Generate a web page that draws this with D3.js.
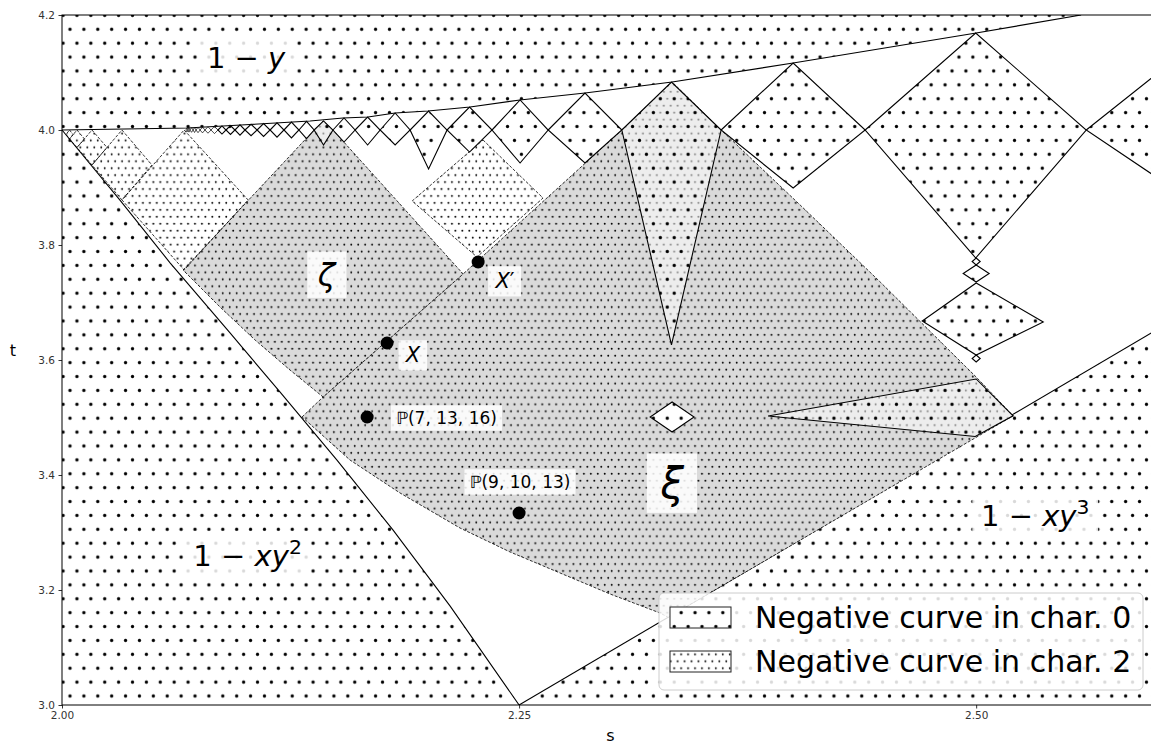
<!DOCTYPE html>
<html>
<head>
<meta charset="utf-8">
<script src="https://cdnjs.cloudflare.com/ajax/libs/d3/7.8.5/d3.min.js"></script>
<style>
  body { margin: 0; background: #fff; }
  svg { display: block; font-family: "DejaVu Sans", sans-serif; }
</style>
</head>
<body>
<svg id="chart" width="1151" height="744"></svg>
<script>
// Axis ticks
var xTicks = [2.0, 2.25, 2.5];
var yTicks = [3.0, 3.2, 3.4, 3.6, 3.8, 4.0, 4.2];

// Boundary of the "1 - y" region (upper envelope of the diamonds)
var topCurve = [[2.0, 4.0], [2.0684, 4.0035], [2.1028, 4.0096], [2.1357, 4.0157], [2.1537, 4.0209],
    [2.1674, 4.0226], [2.1822, 4.0296], [2.2002, 4.0330], [2.2232, 4.0400], [2.2505, 4.0522],
    [2.2861, 4.0643], [2.3337, 4.0835], [2.3999, 4.1165], [2.5, 4.1687], [2.5574, 4.2]];

// Boundary of the "1 - xy^2" region
var curveXY2 = [[2.0, 4.0], [2.0317, 3.878], [2.0591, 3.769], [2.0919, 3.647], [2.1193, 3.544],
    [2.1504, 3.426], [2.1811, 3.304], [2.2123, 3.172], [2.25, 3.0]];

// Boundary of the "1 - xy^3" region
var curveXY3 = [[2.25, 3.0], [2.6, 3.655]];

// Region xi (grey)
var xiOutline = [[2.1313, 3.5009], [2.1428, 3.5357], [2.2194, 3.7496], [2.3062, 4.0], [2.3337, 4.0835],
    [2.3605, 4.0], [2.4037, 3.8696], [2.4475, 3.7357], [2.5, 3.5704], [2.5202, 3.503],
    [2.3315, 3.1525], [2.3271, 3.16], [2.2998, 3.193], [2.2724, 3.2296], [2.2451, 3.2661],
    [2.2177, 3.3078], [2.1849, 3.3687], [2.1575, 3.4261]];

// Region zeta (grey)
var zetaOutline = [[2.0662, 3.7565], [2.1379, 4.0], [2.1428, 4.0157], [2.1482, 4.0], [2.2194, 3.7496],
    [2.1428, 3.5357], [2.1247, 3.5826], [2.1056, 3.6348], [2.0864, 3.6922]];

// Char. 2 diamonds (top, right, bottom, left)
var char2Diamonds = [
    [[2.0668, 4.0], [2.1018, 3.8783], [2.0668, 3.7565], [2.0328, 3.8783]],
    [[2.0328, 4.0], [2.0492, 3.9391], [2.0328, 3.8783], [2.0164, 3.9391]],
    [[2.0164, 4.0], [2.0246, 3.9696], [2.0164, 3.9391], [2.0082, 3.9696]],
    [[2.0082, 4.0], [2.0123, 3.9843], [2.0082, 3.9696], [2.0041, 3.9843]],
    [[2.0041, 4.0], [2.0060, 3.9922], [2.0041, 3.9843], [2.0022, 3.9922]],
    [[2.2303, 3.9826], [2.2631, 3.8817], [2.2270, 3.7791], [2.1915, 3.8765]]
];

// Char. 0 diamonds along t = 4: side corners, top and bottom corners
var zigBase = 4.0;
var zigEdges = [2.0678, 2.0689, 2.0700, 2.0717, 2.0733, 2.0755, 2.0782, 2.0815, 2.0853, 2.0897,
    2.0946, 2.1001, 2.1067, 2.1138, 2.1214, 2.1296, 2.1379, 2.1482, 2.1603, 2.1740, 2.1904,
    2.2106, 2.2352, 2.2659, 2.3062, 2.3605, 2.4393, 2.5602, 2.6400];
var zigTop = [4.0035, 4.0037, 4.0040, 4.0043, 4.0047, 4.0050, 4.0056, 4.0063, 4.0070, 4.0078,
    4.0089, 4.0099, 4.0111, 4.0125, 4.0139, 4.0151, 4.0157, 4.0209, 4.0226, 4.0296, 4.0330,
    4.0400, 4.0522, 4.0643, 4.0835, 4.1165, 4.1687, 4.1009];
var zigBottom = [3.9965, 3.9963, 3.9960, 3.9957, 3.9953, 3.9950, 3.9944, 3.9937, 3.9930, 3.9922,
    3.9911, 3.9901, 3.9889, 3.9875, 3.9861, 3.9849, 3.9739, 3.9791, 3.9739, 3.9739, 3.9322,
    3.9617, 3.9426, 3.9426, 3.6261, 3.8991, 3.7774, 3.9148];

// Char. 0 diamonds hanging under s = 2.5
var chainDiamonds = [
    [[2.5, 3.7774], [2.5022, 3.7713], [2.5, 3.7652], [2.4978, 3.7713]],
    [[2.5, 3.7652], [2.5071, 3.7504], [2.5, 3.7357], [2.4929, 3.7504]],
    [[2.5, 3.7339], [2.5367, 3.6661], [2.5, 3.6087], [2.4705, 3.6678]],
    [[2.5, 3.6087], [2.5022, 3.6026], [2.5, 3.5965], [2.4978, 3.6026]]
];

// Wedge and small diamond inside xi
var sideWedge = [[2.3862, 3.5026], [2.5, 3.567], [2.5202, 3.503], [2.4995, 3.467]];
var xiDiamond = [[2.3337, 3.527], [2.3457, 3.5009], [2.3337, 3.4748], [2.3217, 3.5009]];

// Marked points
var pointS = [2.2276, 2.1778, 2.1669, 2.25];
var pointT = [3.7704, 3.6296, 3.5009, 3.3339];

// Labels: text parts ("i" italic, "sup" superscript), position, font size
var labels = [
    { parts: [["1 − ", ""], ["y", "i"]], s: 2.1007, t: 4.1255, size: 29 },
    { parts: [["1 − ", ""], ["xy", "i"], ["2", "sup"]], s: 2.1015, t: 3.2591, size: 29 },
    { parts: [["1 − ", ""], ["xy", "i"], ["3", "sup"]], s: 2.5323, t: 3.3287, size: 29 },
    { parts: [["ζ", "i"]], s: 2.1447, t: 3.7487, size: 32 },
    { parts: [["ξ", "i"]], s: 2.3337, t: 3.3861, size: 42 },
    { parts: [["X", "i"], ["′", ""]], s: 2.2423, t: 3.7374, size: 21 },
    { parts: [["X", "i"]], s: 2.192, t: 3.6087, size: 21 },
    { parts: [["ℙ(7, 13, 16)", ""]], s: 2.2103, t: 3.4991, size: 17 },
    { parts: [["ℙ(9, 10, 13)", ""]], s: 2.2505, t: 3.3878, size: 17 }
];

var legendLabels = ["Negative curve in char. 0", "Negative curve in char. 2"];

// Dimensions
var marginLeft = 62, marginTop = 15, plotW = 1097, plotH = 690;

var x = d3.scaleLinear().domain([2.0, 2.6]).range([marginLeft, marginLeft + plotW]);
var y = d3.scaleLinear().domain([3.0, 4.2]).range([marginTop + plotH, marginTop]);

var svg = d3.select("#chart");
var defs = svg.append("defs");

// Dot hatches, aligned to a common grid
function dotPattern(id, step, r) {
    var p = defs.append("pattern")
        .attr("id", id)
        .attr("patternUnits", "userSpaceOnUse")
        .attr("width", step)
        .attr("height", step * 2)
        .attr("x", 70 - step / 4)
        .attr("y", 696 - step / 4);
    p.append("circle").attr("cx", step / 4).attr("cy", step / 4).attr("r", r);
    p.append("circle").attr("cx", step * 3 / 4).attr("cy", step * 5 / 4).attr("r", r);
}
dotPattern("char0", 13.89, 1.65);
dotPattern("char2", 6.945, 0.95);

defs.append("clipPath").attr("id", "plotClip")
    .append("rect").attr("x", marginLeft).attr("y", marginTop).attr("width", plotW).attr("height", plotH);

var line = d3.line().x(function(d) { return x(d[0]); }).y(function(d) { return y(d[1]); });

var plot = svg.append("g").attr("clip-path", "url(#plotClip)");

function region(pts, fill, stroke, dashed, closed) {
    var d = line(pts) + (closed ? "Z" : "");
    var p = plot.append("path").attr("d", d).attr("fill", fill);
    if (stroke) {
        p.attr("stroke", "#000").attr("stroke-width", dashed ? 0.8 : 1.1)
            .attr("stroke-linejoin", "miter");
        if (dashed) p.attr("stroke-dasharray", "3,1.6");
    } else {
        p.attr("stroke", "none");
    }
    return p;
}

// Char. 0 regions
region([[2.0, 4.2]].concat(topCurve), "url(#char0)", false, false, true);
region(topCurve, "none", true, false, false);
region([[2.0, 3.0]].concat(curveXY2), "url(#char0)", false, false, true);
region(curveXY2, "none", true, false, false);
region(curveXY3.concat([[2.6, 3.0]]), "url(#char0)", false, false, true);
region(curveXY3, "none", true, false, false);

// Grey regions xi and zeta
[xiOutline, zetaOutline].forEach(function(pts) {
    region(pts, "#dadada", false, false, true);
    region(pts, "url(#char2)", true, true, true);
});

// Char. 2 diamonds
char2Diamonds.forEach(function(pts) {
    region(pts, "url(#char2)", true, true, true);
});

// Char. 0 diamonds along t = 4 (thinner outline for the tiny ones)
d3.range(zigTop.length).forEach(function(i) {
    var sl = zigEdges[i], sr = zigEdges[i + 1], sm = (sl + sr) / 2;
    var pts = [[sl, zigBase], [sm, zigTop[i]], [sr, zigBase], [sm, zigBottom[i]]];
    region(pts, "#fff", false, false, true).attr("fill-opacity", 0.5);
    var p = region(pts, "url(#char0)", true, false, true);
    if (x(sr) - x(sl) < 8) p.attr("stroke-width", 0.7);
});

chainDiamonds.forEach(function(pts) {
    region(pts, "url(#char0)", true, false, true);
});

region(sideWedge, "#fff", false, false, true).attr("fill-opacity", 0.5);
region(sideWedge, "url(#char0)", true, false, true);
region(xiDiamond, "#fff", false, false, true);
region(xiDiamond, "url(#char0)", true, false, true);

// Axes
var xAxis = svg.append("g")
    .attr("transform", "translate(0," + (marginTop + plotH) + ")")
    .call(d3.axisBottom(x).tickValues(xTicks).tickFormat(d3.format(".2f")).tickSize(3.5).tickPadding(3.5));
var yAxis = svg.append("g")
    .attr("transform", "translate(" + marginLeft + ",0)")
    .call(d3.axisLeft(y).tickValues(yTicks).tickFormat(d3.format(".1f")).tickSize(3.5).tickPadding(3.5));
[xAxis, yAxis].forEach(function(a) {
    a.select(".domain").remove();
    a.selectAll("text").attr("font-family", "DejaVu Sans").attr("font-size", 10.5).attr("fill", "#333");
    a.selectAll("line").attr("stroke", "#333");
});

svg.append("rect")
    .attr("x", marginLeft).attr("y", marginTop).attr("width", plotW).attr("height", plotH)
    .attr("fill", "none").attr("stroke", "#000").attr("stroke-width", 1);

svg.append("text").attr("x", marginLeft + plotW / 2).attr("y", 741)
    .attr("text-anchor", "middle").attr("font-size", 16).text("s");
svg.append("text").attr("x", 13).attr("y", 356)
    .attr("text-anchor", "middle").attr("font-size", 16).text("t");

// Marked points
var labelLayer = svg.append("g");
pointS.forEach(function(s, i) {
    labelLayer.append("circle").attr("cx", x(s)).attr("cy", y(pointT[i])).attr("r", 6.5).attr("fill", "#000");
});

// Region and point labels with white boxes
labels.forEach(function(L) {
    var g = labelLayer.append("g");
    var txt = g.append("text")
        .attr("x", x(L.s))
        .attr("y", y(L.t) + 0.35 * L.size)
        .attr("text-anchor", "middle")
        .attr("font-size", L.size);
    L.parts.forEach(function(p) {
        var ts = txt.append("tspan").text(p[0]);
        if (p[1] === "i") ts.attr("font-style", "italic");
        if (p[1] === "sup") ts.attr("font-size", L.size * 0.7).attr("dy", -0.42 * L.size);
    });
    var bb = txt.node().getBBox();
    var ph = 0.3 * L.size, pv = 0.1 * L.size + 1;
    g.insert("rect", "text")
        .attr("x", bb.x - ph).attr("y", bb.y - pv)
        .attr("width", bb.width + 2 * ph).attr("height", bb.height + 2 * pv)
        .attr("fill", "#fff").attr("fill-opacity", 0.85);
});

// Legend
var legend = svg.append("g");
legend.append("rect")
    .attr("x", 659).attr("y", 593).attr("width", 484).attr("height", 97).attr("rx", 5)
    .attr("fill", "#fff").attr("fill-opacity", 0.85).attr("stroke", "#ccc");
legendLabels.forEach(function(name, i) {
    var yy = 607 + i * 44;
    legend.append("rect").attr("x", 670).attr("y", yy).attr("width", 61).attr("height", 21)
        .attr("fill", "#fff");
    legend.append("rect").attr("x", 670).attr("y", yy).attr("width", 61).attr("height", 21)
        .attr("fill", i === 0 ? "url(#char0)" : "url(#char2)").attr("stroke", "#222").attr("stroke-width", 1);
    legend.append("text").attr("x", 755).attr("y", yy + 21).attr("font-size", 30).text(name);
});
</script>
</body>
</html>
